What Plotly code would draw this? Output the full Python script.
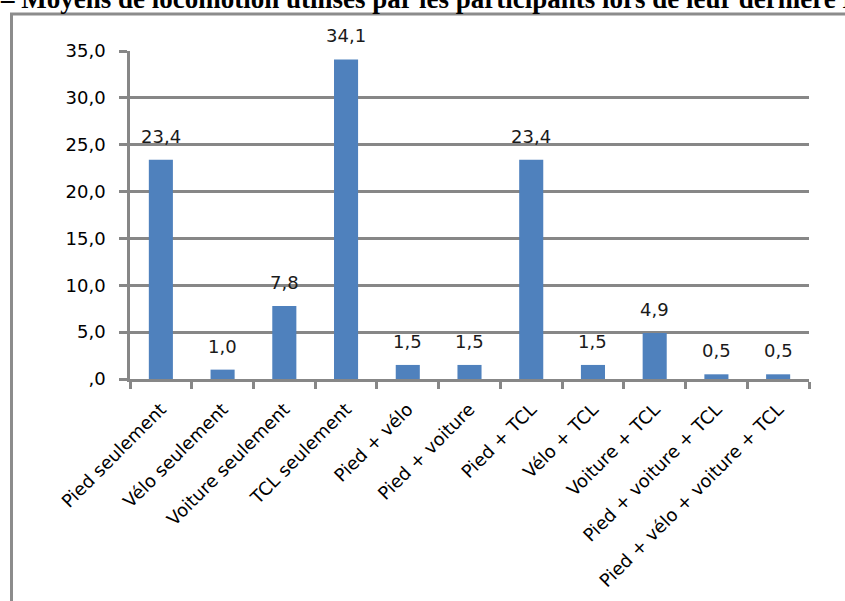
import plotly.graph_objects as go

categories = ["Pied seulement", "Vélo seulement", "Voiture seulement", "TCL seulement",
              "Pied + vélo", "Pied + voiture", "Pied + TCL", "Vélo + TCL",
              "Voiture + TCL", "Pied + voiture + TCL", "Pied + vélo + voiture + TCL"]
values = [23.4, 1.0, 7.8, 34.1, 1.5, 1.5, 23.4, 1.5, 4.9, 0.5, 0.5]
value_labels = ["23,4", "1,0", "7,8", "34,1", "1,5", "1,5", "23,4", "1,5", "4,9", "0,5", "0,5"]
y_tickvals = [0, 5, 10, 15, 20, 25, 30, 35]
y_ticktext = [",0", "5,0", "10,0", "15,0", "20,0", "25,0", "30,0", "35,0"]
title_text = "– Moyens de locomotion utilisés par les participants lors de leur dernière Fête des Lumières"

W, H = 845, 601
L, R, T, B = 130, 36, 51, 222
pw, ph = W - L - R, H - T - B

def px_x(p):
    return (p - L) / pw

def px_y(p):
    return (H - B - p) / ph

GRAY = "#878787"
FONT = "DejaVu Sans"

fig = go.Figure()
fig.add_trace(go.Bar(x=categories, y=values, marker=dict(color="#4F81BD", line=dict(width=0)),
                     hoverinfo="skip"))

annotations = []
for c, v, t in zip(categories, values, value_labels):
    annotations.append(dict(x=c, y=v, xref="x", yref="y", text=t, showarrow=False,
                            yanchor="bottom", yshift=11,
                            font=dict(family=FONT, size=18, color="#1a1a1a")))
annotations.append(dict(x=px_x(-1), y=px_y(15.5), xref="paper", yref="paper", text="<b>" + title_text + "</b>",
                        showarrow=False, xanchor="left", yanchor="bottom", borderpad=0,
                        font=dict(family="Liberation Serif", size=27, color="#000000")))

fig.update_layout(
    width=W, height=H,
    margin=dict(l=L, r=R, t=T, b=B, autoexpand=False),
    paper_bgcolor="white", plot_bgcolor="white",
    showlegend=False,
    bargap=0.61,
    annotations=annotations,
    shapes=[dict(type="rect", xref="paper", yref="paper",
                 x0=px_x(11.5), x1=px_x(900), y0=px_y(700), y1=px_y(14),
                 line=dict(color="#8c8c8c", width=3), fillcolor="rgba(0,0,0,0)", layer="below")],
    xaxis=dict(
        showline=True, linecolor=GRAY, linewidth=2.5,
        ticks="outside", tickson="boundaries", ticklen=7, tickwidth=2.5, tickcolor=GRAY,
        tickangle=-45, tickfont=dict(family=FONT, size=18, color="#000000"),
        ticklabelstandoff=10,
        showgrid=False,
    ),
    yaxis=dict(
        range=[0, 35], tickvals=y_tickvals, ticktext=y_ticktext,
        showline=True, linecolor=GRAY, linewidth=2.5,
        ticks="outside", ticklen=8, tickwidth=2.5, tickcolor=GRAY,
        ticklabelstandoff=10,
        showgrid=True, gridcolor=GRAY, gridwidth=2.5,
        zeroline=False,
        tickfont=dict(family=FONT, size=18, color="#000000"),
    ),
)

fig.write_html("out.html", config={"displayModeBar": False},
               post_script="document.body.style.margin='0';document.body.style.overflow='hidden';")
